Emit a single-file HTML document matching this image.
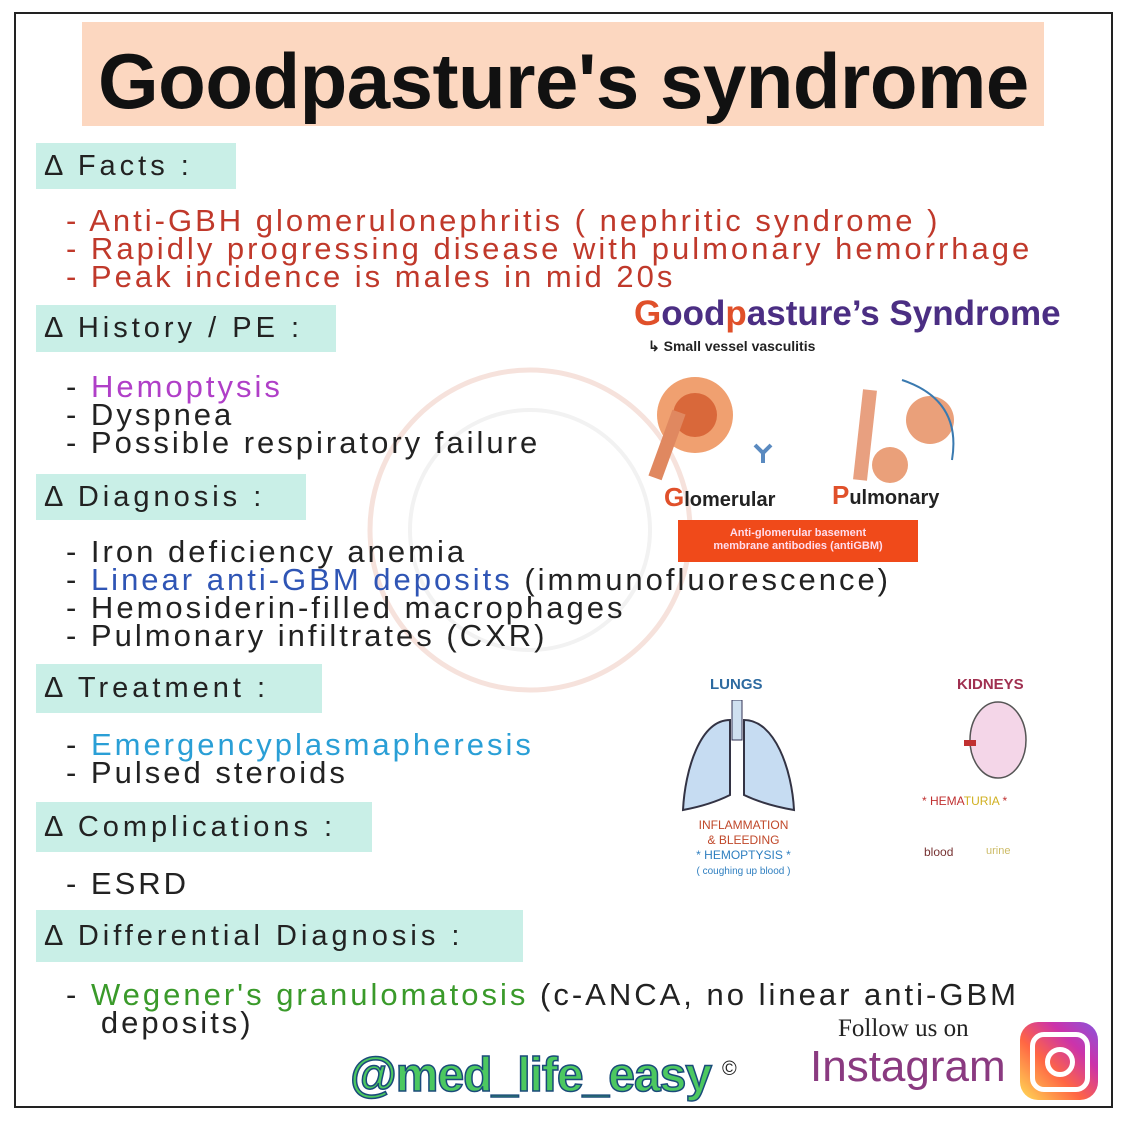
<!DOCTYPE html><html><head><style>
body{margin:0;width:1125px;height:1125px;background:#fff;position:relative;overflow:hidden;font-family:"Liberation Sans",sans-serif}
.a{position:absolute}
.frame{left:14px;top:12px;width:1099px;height:1096px;border:2px solid #222;box-sizing:border-box}
.h{background:#c9efe7;font-size:29px;color:#222;padding-left:8px;box-sizing:border-box;display:flex;align-items:center;letter-spacing:4px}
.t{font-size:31px;line-height:28px;color:#222;white-space:pre;letter-spacing:3px}
.r{color:#c0392b}
</style></head><body>
<div class="a frame"></div>
<div class="a" style="left:82px;top:22px;width:962px;height:104px;background:#fcd7c0"></div>
<div class="a" style="left:98px;top:36px;font-size:78px;font-weight:bold;color:#111;letter-spacing:-0.5px">Goodpasture's syndrome</div>
<svg class="a" style="left:360px;top:360px" width="400" height="380"><circle cx="170" cy="170" r="160" fill="none" stroke="#f6e2dc" stroke-width="5"/><circle cx="170" cy="170" r="120" fill="none" stroke="#f2f2f2" stroke-width="4"/></svg>
<div class="a h" style="left:36px;top:143px;width:200px;height:46px">Δ Facts :</div>
<div class="a t r" style="left:66px;top:207px">- Anti-GBH glomerulonephritis ( nephritic syndrome )
- Rapidly progressing disease with pulmonary hemorrhage
- Peak incidence is males in mid 20s</div>
<div class="a h" style="left:36px;top:305px;width:300px;height:47px">Δ History / PE :</div>
<div class="a t" style="left:66px;top:373px">- <span style="color:#b03fc8">Hemoptysis</span>
- Dyspnea
- Possible respiratory failure</div>
<div class="a h" style="left:36px;top:474px;width:270px;height:46px">Δ Diagnosis :</div>
<div class="a t" style="left:66px;top:538px">- Iron deficiency anemia
- <span style="color:#2f55b5">Linear anti-GBM deposits</span> (immunofluorescence)
- Hemosiderin-filled macrophages
- Pulmonary infiltrates (CXR)</div>
<div class="a h" style="left:36px;top:664px;width:286px;height:49px">Δ Treatment :</div>
<div class="a t" style="left:66px;top:731px">- <span style="color:#2a9fd6">Emergencyplasmapheresis</span>
- Pulsed steroids</div>
<div class="a h" style="left:36px;top:802px;width:336px;height:50px">Δ Complications :</div>
<div class="a t" style="left:66px;top:870px">- ESRD</div>
<div class="a h" style="left:36px;top:910px;width:487px;height:52px">Δ Differential Diagnosis :</div>
<div class="a t" style="left:66px;top:981px">- <span style="color:#3a9a2a">Wegener's granulomatosis</span> (c-ANCA, no linear anti-GBM
   deposits)</div>
<div class="a" style="left:634px;top:294px;font-size:35px;font-weight:bold;color:#4b2e83"><span style="color:#e0502a">G</span>ood<span style="color:#e0502a">p</span>asture’s Syndrome</div>
<div class="a" style="left:648px;top:338px;font-size:14px;font-weight:bold;color:#222">↳ Small vessel vasculitis</div>
<svg class="a" style="left:640px;top:370px" width="340" height="115">
<circle cx="55" cy="45" r="38" fill="#f0a070"/><circle cx="55" cy="45" r="22" fill="#d9683a"/><rect x="20" y="40" width="14" height="70" fill="#e08860" transform="rotate(20 27 75)"/>
<path d="M115 75 l8 8 l8 -8 M123 83 v10" stroke="#5a8ac0" stroke-width="4" fill="none"/>
<path d="M230 20 l-10 90" stroke="#e8a080" stroke-width="14"/><circle cx="290" cy="50" r="24" fill="#eaa07a"/><circle cx="250" cy="95" r="18" fill="#eaa07a"/>
<path d="M262 10 q60 20 50 80" stroke="#3a7ab0" stroke-width="2" fill="none"/>
</svg>
<div class="a" style="left:664px;top:482px;font-size:20px;font-weight:bold;color:#222"><span style="color:#e0502a;font-size:26px">G</span>lomerular</div>
<div class="a" style="left:832px;top:480px;font-size:20px;font-weight:bold;color:#222"><span style="color:#e0502a;font-size:26px">P</span>ulmonary</div>
<div class="a" style="left:678px;top:520px;width:240px;height:42px;background:#f04a1a;color:#fde;font-size:11px;font-weight:bold;text-align:center;line-height:13px;padding-top:7px;box-sizing:border-box">Anti-glomerular basement<br>membrane antibodies (antiGBM)</div>
<div class="a" style="left:710px;top:676px;font-size:15px;color:#2d6aa0;font-weight:bold">LUNGS</div>
<svg class="a" style="left:680px;top:700px" width="120" height="120"><rect x="52" y="0" width="10" height="40" fill="#cfe0f0" stroke="#335"/><path d="M50 20 C20 20 5 70 3 110 Q30 105 50 95 Z" fill="#c6dcf2" stroke="#334" stroke-width="2"/><path d="M64 20 C95 20 112 70 114 110 Q85 105 64 95 Z" fill="#c6dcf2" stroke="#334" stroke-width="2"/></svg>
<div class="a" style="left:686px;top:818px;font-size:12px;line-height:15px;text-align:center;width:115px;color:#c0482a">INFLAMMATION<br>&amp; BLEEDING<br><span style="color:#2f7fc0">* HEMOPTYSIS *</span><br><span style="color:#2f7fc0;font-size:10px">( coughing up blood )</span></div>
<div class="a" style="left:957px;top:676px;font-size:15px;color:#a03050;font-weight:bold">KIDNEYS</div>
<svg class="a" style="left:960px;top:700px" width="70" height="85"><ellipse cx="38" cy="40" rx="28" ry="38" fill="#f4d6e8" stroke="#555" stroke-width="1.5"/><rect x="4" y="40" width="12" height="6" fill="#c03030"/></svg>
<div class="a" style="left:922px;top:794px;font-size:12px;color:#c03030">* HEMA<span style="color:#d0b020">TURIA</span> *</div>
<div class="a" style="left:924px;top:845px;font-size:12px;color:#733">blood</div>
<div class="a" style="left:986px;top:845px;font-size:11px;color:#cb6">urine</div>
<div class="a" style="left:838px;top:1015px;font-size:25px;color:#222;font-family:'Liberation Serif',serif">Follow us on</div>
<div class="a" style="left:810px;top:1042px;font-size:44px;color:#8a3a80">Instagram</div>
<div class="a" style="left:1020px;top:1022px;width:78px;height:78px;border-radius:18px;background:linear-gradient(45deg,#fd5,#f64 40%,#c3a 70%,#85d)"><div style="position:absolute;left:10px;top:10px;width:50px;height:50px;border:5px solid #fff;border-radius:14px"></div><div style="position:absolute;left:25px;top:25px;width:20px;height:20px;border:5px solid #fff;border-radius:50%"></div></div>
<div class="a" style="left:350px;top:1048px;font-size:48px;font-weight:bold;color:#4cc860;-webkit-text-stroke:1.5px #1a4a7a;letter-spacing:-1px">@med_life_easy</div>
<div class="a" style="left:722px;top:1058px;font-size:20px;color:#222">©</div>
</body></html>
